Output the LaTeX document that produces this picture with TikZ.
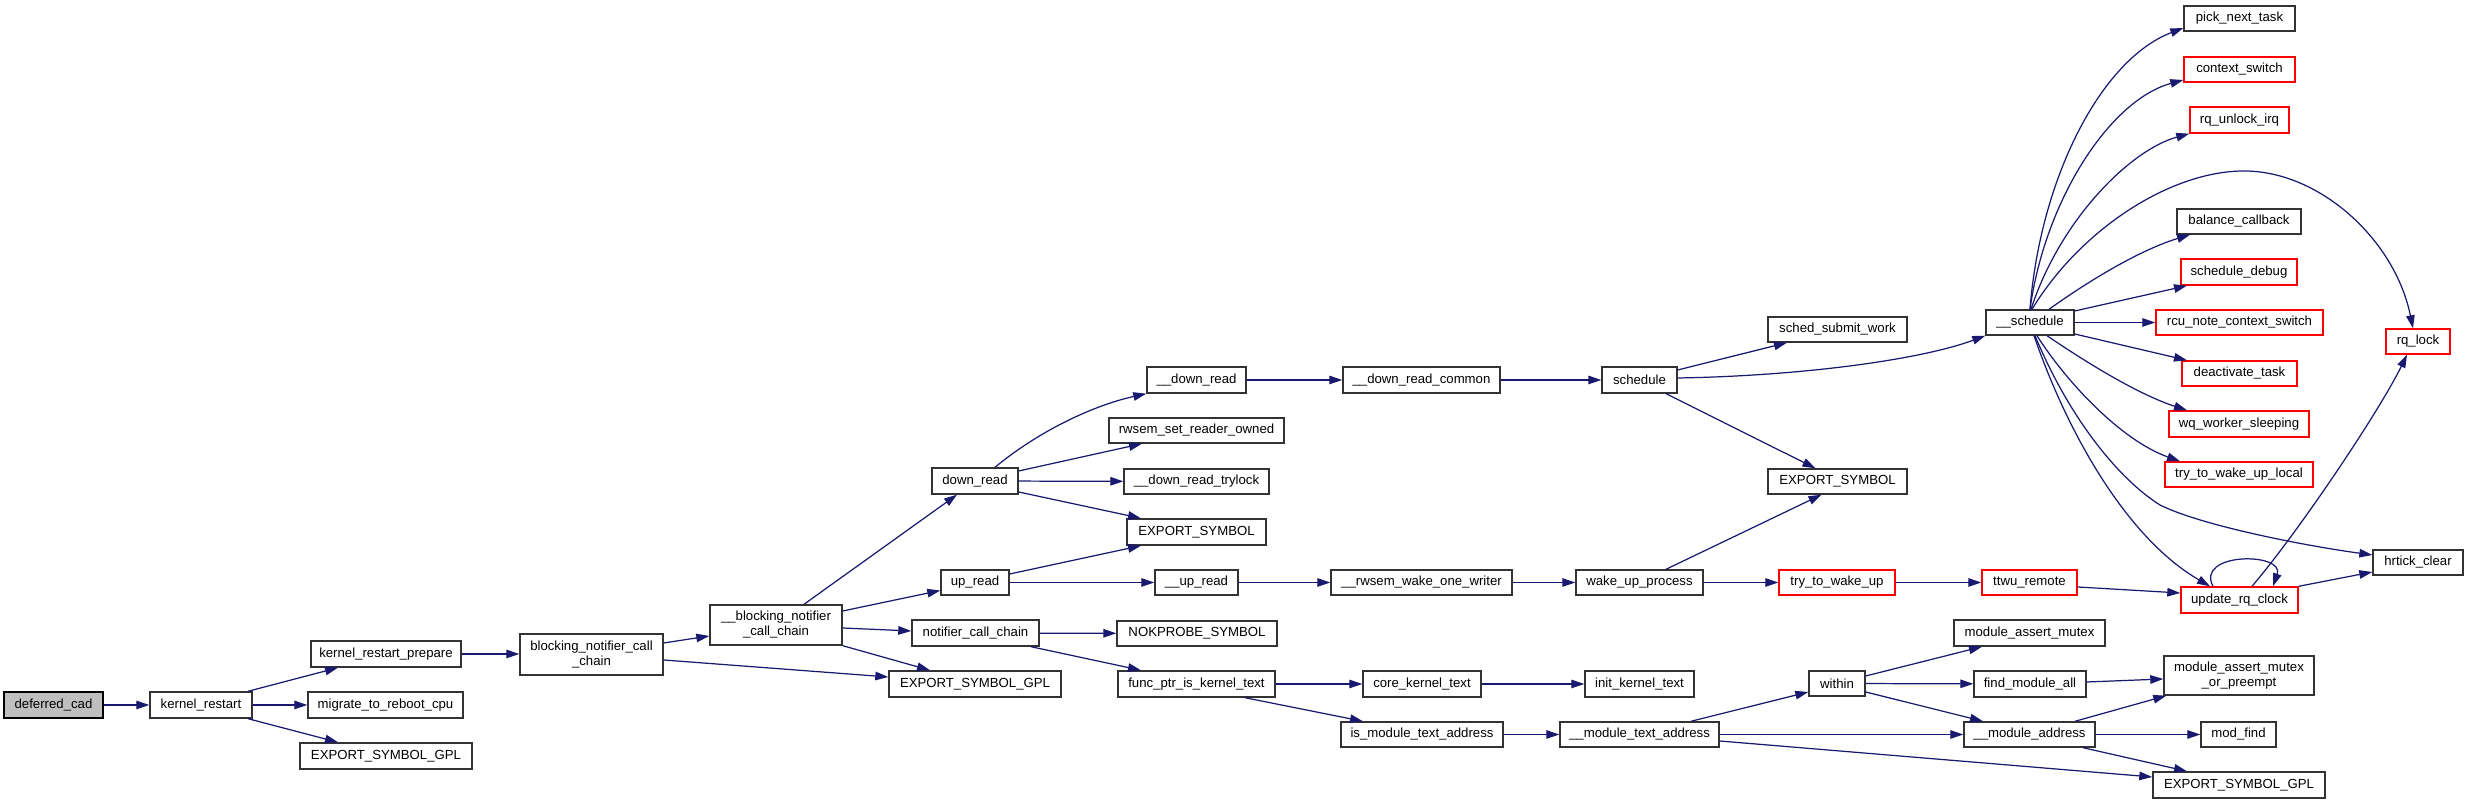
\documentclass[tikz,border=0pt]{standalone}
\usepackage{fontspec}
\setmainfont{Liberation Sans}
\usetikzlibrary{arrows.meta,calc}
\definecolor{edgeblue}{HTML}{191970}
\definecolor{nodered}{HTML}{FF0000}
\definecolor{nodegray}{HTML}{BFBFBF}
\tikzset{
  nb/.style n args={4}{at={({(#1+#3)/2},{(#2+#4)/2})},
     minimum width={(#3-#1)*0.01cm}, minimum height={(#4-#2)*0.01cm}},
  box/.style={draw=black!80, line width=0.4pt, fill=white, inner sep=0pt,
     font=\fontsize{3.75}{4.25}\selectfont, align=center},
  rbox/.style={box, draw=nodered},
  gbox/.style={box, fill=nodegray, draw=black},
  e/.style={draw=edgeblue, line width=0.35pt,
     -{Triangle[length=0.13cm,width=0.085cm]}},
}
\begin{document}
\begin{tikzpicture}[x=0.01cm,y=-0.01cm]
\useasboundingbox (0,0) rectangle (2468,804);
% nodes
\node[gbox,nb={4}{692}{103}{718}] (dc) {deferred\_cad};
\node[box,nb={150}{692}{252}{718}] (kr) {kernel\_restart};
\node[box,nb={311}{641}{461}{667}] (krp) {kernel\_restart\_prepare};
\node[box,nb={308}{692}{463}{718}] (mrc) {migrate\_to\_reboot\_cpu};
\node[box,nb={300}{743}{472}{769}] (esgA) {EXPORT\_SYMBOL\_GPL};
\node[box,nb={520}{634}{663}{675}] (bncc) {blocking\_notifier\_call\\\_chain};
\node[box,nb={710}{605}{842}{645}] (bbncc) {\_\_blocking\_notifier\\\_call\_chain};
\node[box,nb={932}{468}{1018}{494}] (dr) {down\_read};
\node[box,nb={941}{570}{1009}{595}] (ur) {up\_read};
\node[box,nb={912}{620}{1039}{646}] (ncc) {notifier\_call\_chain};
\node[box,nb={889}{671}{1061}{697}] (esgB) {EXPORT\_SYMBOL\_GPL};
\node[box,nb={1147}{367}{1246}{393}] (udr) {\_\_down\_read};
\node[box,nb={1109}{418}{1284}{443}] (rsro) {rwsem\_set\_reader\_owned};
\node[box,nb={1124}{469}{1269}{494}] (drt) {\_\_down\_read\_trylock};
\node[box,nb={1127}{519}{1266}{545}] (esA) {EXPORT\_SYMBOL};
\node[box,nb={1155}{570}{1238}{595}] (uur) {\_\_up\_read};
\node[box,nb={1117}{621}{1277}{646}] (nps) {NOKPROBE\_SYMBOL};
\node[box,nb={1118}{671}{1275}{697}] (fpk) {func\_ptr\_is\_kernel\_text};
\node[box,nb={1343}{367}{1500}{393}] (drc) {\_\_down\_read\_common};
\node[box,nb={1331}{570}{1512}{595}] (rwow) {\_\_rwsem\_wake\_one\_writer};
\node[box,nb={1363}{671}{1481}{697}] (ckt) {core\_kernel\_text};
\node[box,nb={1341}{722}{1503}{747}] (imta) {is\_module\_text\_address};
\node[box,nb={1602}{367}{1677}{393}] (sch) {schedule};
\node[box,nb={1576}{570}{1703}{595}] (wup) {wake\_up\_process};
\node[box,nb={1585}{671}{1694}{697}] (ikt) {init\_kernel\_text};
\node[box,nb={1560}{722}{1719}{747}] (umta) {\_\_module\_text\_address};
\node[box,nb={1768}{317}{1907}{342}] (ssw) {sched\_submit\_work};
\node[box,nb={1768}{469}{1907}{494}] (esB) {EXPORT\_SYMBOL};
\node[rbox,nb={1779}{570}{1895}{595}] (ttwu) {try\_to\_wake\_up};
\node[box,nb={1809}{671}{1865}{696}] (within) {within};
\node[box,nb={1986}{310}{2074}{335}] (usch) {\_\_schedule};
\node[rbox,nb={1982}{570}{2077}{595}] (ttwr) {ttwu\_remote};
\node[box,nb={1954}{620}{2105}{646}] (mam) {module\_assert\_mutex};
\node[box,nb={1974}{671}{2086}{697}] (fma) {find\_module\_all};
\node[box,nb={1964}{722}{2095}{747}] (uma) {\_\_module\_address};
\node[box,nb={2184}{6}{2295}{31}] (pnt) {pick\_next\_task};
\node[rbox,nb={2184}{57}{2295}{82}] (cs) {context\_switch};
\node[rbox,nb={2190}{107}{2289}{133}] (rui) {rq\_unlock\_irq};
\node[box,nb={2177}{209}{2301}{234}] (bc) {balance\_callback};
\node[rbox,nb={2181}{259}{2297}{285}] (sd) {schedule\_debug};
\node[rbox,nb={2156}{310}{2323}{335}] (rncs) {rcu\_note\_context\_switch};
\node[rbox,nb={2182}{361}{2297}{386}] (dt) {deactivate\_task};
\node[rbox,nb={2169}{411}{2309}{437}] (wws) {wq\_worker\_sleeping};
\node[rbox,nb={2165}{462}{2313}{487}] (ttwul) {try\_to\_wake\_up\_local};
\node[rbox,nb={2181}{587}{2298}{613}] (urc) {update\_rq\_clock};
\node[box,nb={2164}{656}{2314}{695}] (mamop) {module\_assert\_mutex\\\_or\_preempt};
\node[box,nb={2201}{722}{2276}{747}] (mf) {mod\_find};
\node[box,nb={2153}{772}{2325}{798}] (esgC) {EXPORT\_SYMBOL\_GPL};
\node[rbox,nb={2386}{329}{2450}{354}] (rql) {rq\_lock};
\node[box,nb={2373}{550}{2463}{575}] (hc) {hrtick\_clear};
% edges
\draw[e] (dc) -- (kr);
\draw[e] ($(kr.north)+(47,0)$) -- ($(krp.south)+(-48,0)$);
\draw[e] (kr) -- (mrc);
\draw[e] ($(kr.south)+(47,0)$) -- ($(esgA.north)+(-48,0)$);
\draw[e] (krp.east) -- (krp.east -| bncc.west);
\draw[e] ($(bncc.east)+(0,-11.5)$) -- ($(bbncc.west)+(0,11)$);
\draw[e] ($(bncc.east)+(0,5.5)$) -- ($(esgB.west)+(0,-7)$);
\draw[e] ($(bbncc.north)+(28,0)$) -- ($(dr.south)+(-18,0)$);
\draw[e] ($(bbncc.east)+(0,-14)$) -- ($(ur.west)+(0,8)$);
\draw[e] ($(bbncc.east)+(0,3)$) -- ($(ncc.west)+(0,-2)$);
\draw[e] (bbncc.south east) -- ($(esgB.north)+(-45,0)$);
\draw[e] ($(dr.north)+(20,0)$) .. controls (1040,430) and (1095,405) .. (udr.south west);
\draw[e] ($(dr.east)+(0,-10)$) -- ($(rsro.south)+(-54.5,0)$);
\draw[e] (dr) -- (drt);
\draw[e] ($(dr.east)+(0,11)$) -- ($(esA.north)+(-55.5,0)$);
\draw[e] ($(ur.east)+(0,-8.5)$) -- ($(esA.south)+(-55.5,0)$);
\draw[e] (ur) -- (uur);
\draw[e] (ncc) -- (nps);
\draw[e] ($(ncc.south)+(55.5,0)$) -- ($(fpk.north)+(-55.5,0)$);
\draw[e] (udr) -- (drc);
\draw[e] (drc) -- (sch);
\draw[e] ($(sch.east)+(0,-10)$) -- ($(ssw.south)+(-50.5,0)$);
\draw[e] ($(sch.east)+(0,-2)$) .. controls (1800,376) and (1920,360) .. (usch.south west);
\draw[e] ($(sch.south)+(26.5,0)$) -- ($(esB.north)+(-22,0)$);
\draw[e] ($(wup.north)+(26.5,0)$) -- ($(esB.south)+(-16,0)$);
\draw[e] (uur) -- (rwow);
\draw[e] (rwow) -- (wup);
\draw[e] (wup) -- (ttwu);
\draw[e] (ttwu) -- (ttwr);
\draw[e] ($(ttwr.east)+(0,4.5)$) -- ($(urc.west)+(0,-7)$);
\draw[e] ($(urc.north)+(-26.5,0)$) .. controls (2195,552) and (2285,552) .. ($(urc.north)+(33.5,0)$);
\draw[e] ($(urc.north)+(12.5,0)$) .. controls (2300,530) and (2380,410) .. ($(rql.south)+(-11,0)$);
\draw[e] (urc.north east) -- ($(hc.west)+(0,9.5)$);
% __schedule fan
\draw[e] (usch.north) .. controls (2040,180) and (2100,60) .. ($(pnt.west)+(0,9.5)$);
\draw[e] (usch.north) .. controls (2045,200) and (2110,100) .. ($(cs.west)+(0,10.5)$);
\draw[e] ($(usch.north)+(1,0)$) .. controls (2060,220) and (2130,150) .. (rui.south west);
\draw[e] ($(usch.north)+(2,0)$) .. controls (2080,230) and (2170,171) .. (2244,171)
   .. controls (2320,171) and (2395,240) .. ($(rql.north)+(-5,0)$);
\draw[e] ($(usch.north)+(19,0)$) .. controls (2090,280) and (2140,250) .. ($(bc.south)+(-49,0)$);
\draw[e] ($(usch.east)+(0,-11.5)$) -- ($(sd.south)+(-52,0)$);
\draw[e] (usch) -- (rncs);
\draw[e] ($(usch.east)+(0,11.5)$) -- ($(dt.north)+(-52.5,0)$);
\draw[e] ($(usch.south)+(17,0)$) .. controls (2090,365) and (2140,395) .. ($(wws.north)+(-52,0)$);
\draw[e] ($(usch.south)+(7,0)$) .. controls (2065,380) and (2120,440) .. ($(ttwul.north)+(-59,0)$);
\draw[e] ($(usch.south)+(5,0)$) .. controls (2070,420) and (2120,480) .. (2160,505)
   .. controls (2200,525) and (2300,545) .. ($(hc.west)+(0,-7.5)$);
\draw[e] ($(usch.south)+(4,0)$) .. controls (2070,440) and (2130,540) .. ($(urc.north)+(-29.5,0)$);
% module part
\draw[e] (fpk) -- (ckt);
\draw[e] ($(fpk.south)+(48.5,0)$) -- ($(imta.north)+(-59,0)$);
\draw[e] (ckt) -- (ikt);
\draw[e] (imta) -- (umta);
\draw[e] ($(umta.north)+(51.5,0)$) -- ($(within.west)+(0,8.5)$);
\draw[e] (umta) -- (uma);
\draw[e] ($(umta.east)+(0,6.5)$) -- ($(esgC.west)+(0,-8)$);
\draw[e] ($(within.east)+(0,-7.5)$) -- ($(mam.south)+(-47.5,0)$);
\draw[e] (within) -- (fma);
\draw[e] ($(within.east)+(0,8.5)$) -- ($(uma.north)+(-46.5,0)$);
\draw[e] ($(fma.east)+(0,-2)$) -- ($(mamop.west)+(0,3.5)$);
\draw[e] ($(uma.north)+(45.5,0)$) -- ($(mamop.south west)+(3,0)$);
\draw[e] (uma) -- (mf);
\draw[e] ($(uma.south)+(53.5,0)$) -- ($(esgC.north)+(-52,0)$);
\end{tikzpicture}
\end{document}
